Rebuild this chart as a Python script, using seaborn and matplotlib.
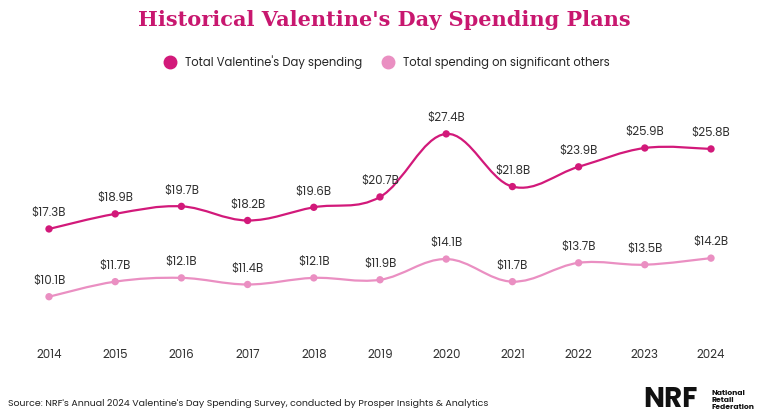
import numpy as np
import matplotlib
matplotlib.use("Agg")
import matplotlib.pyplot as plt
import seaborn as sns
from matplotlib.path import Path
from matplotlib.patches import PathPatch

years = [2014, 2015, 2016, 2017, 2018, 2019, 2020, 2021, 2022, 2023, 2024]
total_spend = [17.3, 18.9, 19.7, 18.2, 19.6, 20.7, 27.4, 21.8, 23.9, 25.9, 25.8]
so_spend = [10.1, 11.7, 12.1, 11.4, 12.1, 11.9, 14.1, 11.7, 13.7, 13.5, 14.2]

DARK = "#d2197a"
LIGHT = "#ea8fc2"

sns.set_theme(style="white")
plt.rcParams['font.family'] = ['Poppins', 'Lato', 'DejaVu Sans']


def smooth_path(xs, ys):
    # catmull-rom style bezier through the points (drawing style only)
    xs = np.asarray(xs, float)
    ys = np.asarray(ys, float)
    verts = [(xs[0], ys[0])]
    codes = [Path.MOVETO]
    t = 0.18
    for i in range(len(xs) - 1):
        p0 = (xs[max(i - 1, 0)], ys[max(i - 1, 0)])
        p1 = (xs[i], ys[i])
        p2 = (xs[i + 1], ys[i + 1])
        p3 = (xs[min(i + 2, len(xs) - 1)], ys[min(i + 2, len(xs) - 1)])
        c1 = (p1[0] + (p2[0] - p0[0]) * t, p1[1] + (p2[1] - p0[1]) * t)
        c2 = (p2[0] - (p3[0] - p1[0]) * t, p2[1] - (p3[1] - p1[1]) * t)
        verts += [c1, c2, p2]
        codes += [Path.CURVE4] * 3
    return Path(verts, codes)


fig = plt.figure(figsize=(7.68, 4.19), dpi=100)
ax = fig.add_axes([49 / 768, 1 - 340 / 419, (711 - 49) / 768, 240 / 419])
ax.set_xlim(2014, 2024)
ax.set_ylim(5.5, 31.0)

for vals, col in [(total_spend, DARK), (so_spend, LIGHT)]:
    ax.add_patch(PathPatch(smooth_path(years, vals), fill=False, edgecolor=col, lw=1.6, clip_on=False))
    sns.scatterplot(x=years, y=vals, color=col, s=28, edgecolor="none", ax=ax, clip_on=False, zorder=3)
    for x, v in zip(years, vals):
        ax.annotate(f"${v}B", (x, v), xytext=(0, 7), textcoords="offset points",
                    ha="center", va="bottom", fontsize=8.5, color="#333333")

ax.axis("off")
for x in years:
    fig.text((49 + (x - 2014) * 66.2) / 768, 1 - 355 / 419, str(x), ha="center", va="center",
             fontsize=8.5, color="#333333")

fig.text(0.5, 1 - 20 / 419, "Historical Valentine's Day Spending Plans", ha="center", va="center",
         fontsize=15, fontweight="bold", color="#c8176f", family=["DejaVu Serif"])

fig.legend(handles=[plt.Line2D([], [], marker="o", ls="", color=DARK, markersize=9),
                    plt.Line2D([], [], marker="o", ls="", color=LIGHT, markersize=9)],
           labels=["Total Valentine's Day spending", "Total spending on significant others"],
           loc="center", bbox_to_anchor=(0.5, 1 - 62 / 419), ncol=2, frameon=False,
           fontsize=8.3, handletextpad=0.3, columnspacing=1.2)

fig.text(8 / 768, 1 - 403 / 419, "Source: NRF's Annual 2024 Valentine's Day Spending Survey, conducted by Prosper Insights & Analytics",
         ha="left", va="center", fontsize=6.8, color="#222222")
fig.text(670 / 768, 1 - 400 / 419, "NRF", ha="center", va="center", fontsize=20, fontweight="bold", color="#111111")
fig.text(711 / 768, 1 - 400 / 419, "National\nRetail\nFederation", ha="left", va="center",
         fontsize=5.5, fontweight="bold", color="#111111", linespacing=1.0)

fig.savefig("out.png", dpi=100, facecolor="white")
